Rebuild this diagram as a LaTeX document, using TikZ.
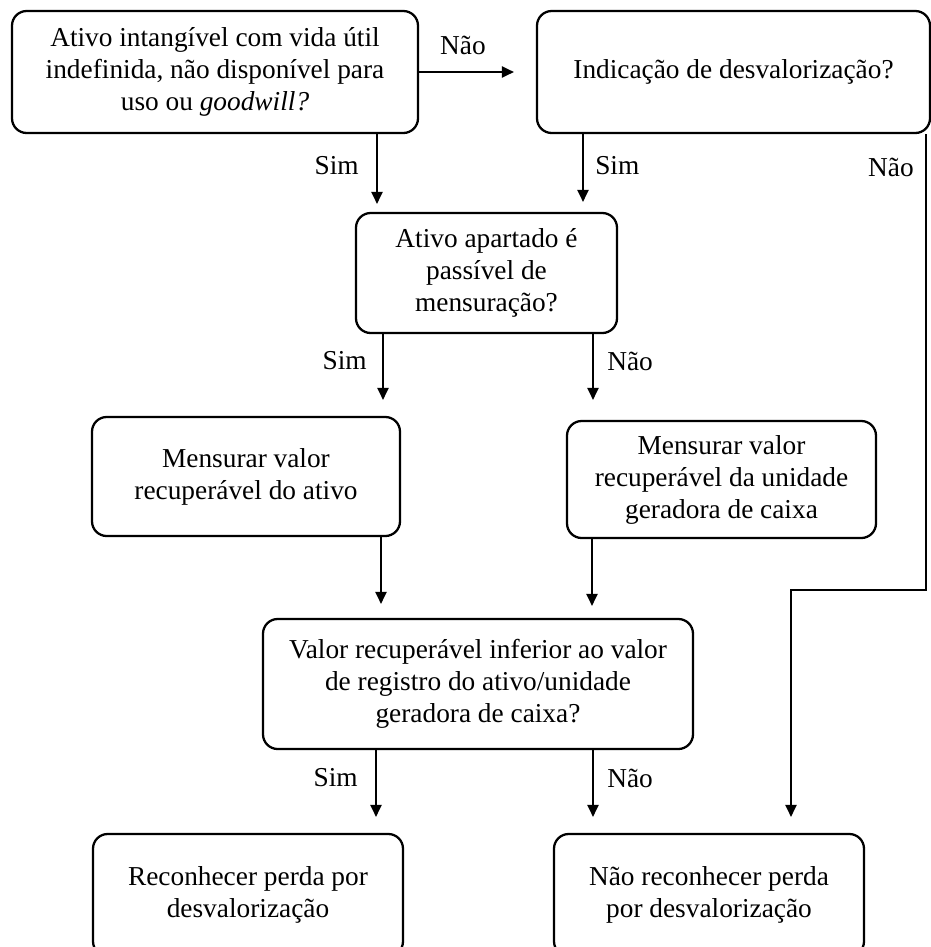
\documentclass[tikz,border=0pt]{standalone}
\usepackage{fontspec}
\setmainfont{Liberation Serif}
\usetikzlibrary{arrows.meta}
\begin{document}
\begin{tikzpicture}[x=0.75pt,y=-0.75pt,
  box/.style={draw, line width=1.7pt, rounded corners=11pt, align=center,
    font=\fontsize{20.5}{24}\selectfont, inner sep=0pt},
  arr/.style={line width=0.95pt, -{Triangle[length=9pt,width=8.5pt]}},
  lbl/.style={font=\fontsize{20.5}{24}\selectfont, inner sep=0pt}]
\useasboundingbox (0,0) rectangle (931,947);

\node[box, minimum width=304.5pt, minimum height=91.5pt] (b1) at (215,72)
  {Ativo intangível com vida útil\\ indefinida, não disponível para\\ uso ou \textit{goodwill?}};
\node[box, minimum width=294.75pt, minimum height=91.5pt] (b2) at (733.5,72)
  {\raisebox{-3pt}{Indicação de desvalorização?}};
\node[box, minimum width=195.75pt, minimum height=90pt] (b3) at (486.5,273)
  {Ativo apartado é\\ passível de\\ mensuração?};
\node[box, minimum width=231pt, minimum height=89.25pt] (b4) at (246,476.5)
  {Mensurar valor\\ recuperável do ativo};
\node[box, minimum width=231.75pt, minimum height=87.75pt] (b5) at (721.5,479.5)
  {Mensurar valor\\ recuperável da unidade\\ geradora de caixa};
\node[box, minimum width=322.5pt, minimum height=97.5pt] (b6) at (478,684)
  {Valor recuperável inferior ao valor\\ de registro do ativo/unidade\\ geradora de caixa?};
\node[box, minimum width=232.5pt, minimum height=91.5pt] (b7) at (248,895)
  {Reconhecer perda por\\ desvalorização};
\node[box, minimum width=232.5pt, minimum height=91.5pt] (b8) at (709,895)
  {Não reconhecer perda\\ por desvalorização};

% connectors
\draw[arr, shorten >=16.5pt] (b1.east) -- (b2.west);
\draw[arr, shorten >=6pt] (377,0 |- b1.south) -- (377,0 |- b3.north);
\draw[arr, shorten >=7.5pt] (583,0 |- b2.south) -- (583,0 |- b3.north);
\draw[arr, shorten >=12pt] (926,0 |- b2.south) -- (926,590) -- (791,590) -- (791,0 |- b8.north);
\draw[arr, shorten >=12pt] (383,0 |- b3.south) -- (383,0 |- b4.north);
\draw[arr, shorten >=15pt] (593,0 |- b3.south) -- (593,0 |- b5.north);
\draw[arr, shorten >=10.5pt] (381,0 |- b4.south) -- (381,0 |- b6.north);
\draw[arr, shorten >=9pt] (592,0 |- b5.south) -- (592,0 |- b6.north);
\draw[arr, shorten >=12pt] (376,0 |- b6.south) -- (376,0 |- b7.north);
\draw[arr, shorten >=12pt] (593,0 |- b6.south) -- (593,0 |- b8.north);

% labels
\node[lbl] (l1) at (463,45) {Não};
\node[lbl, anchor=east] (l2) at (359,166) {Sim};
\node[lbl, anchor=west] (l3) at (595,166) {Sim};
\node[lbl, anchor=east] (l4) at (914,167) {Não};
\node[lbl, anchor=east] (l5) at (367,361) {Sim};
\node[lbl, anchor=west] (l6) at (607,361) {Não};
\node[lbl, anchor=east] (l7) at (358,778) {Sim};
\node[lbl, anchor=west] (l8) at (607,778) {Não};
\end{tikzpicture}
\end{document}
